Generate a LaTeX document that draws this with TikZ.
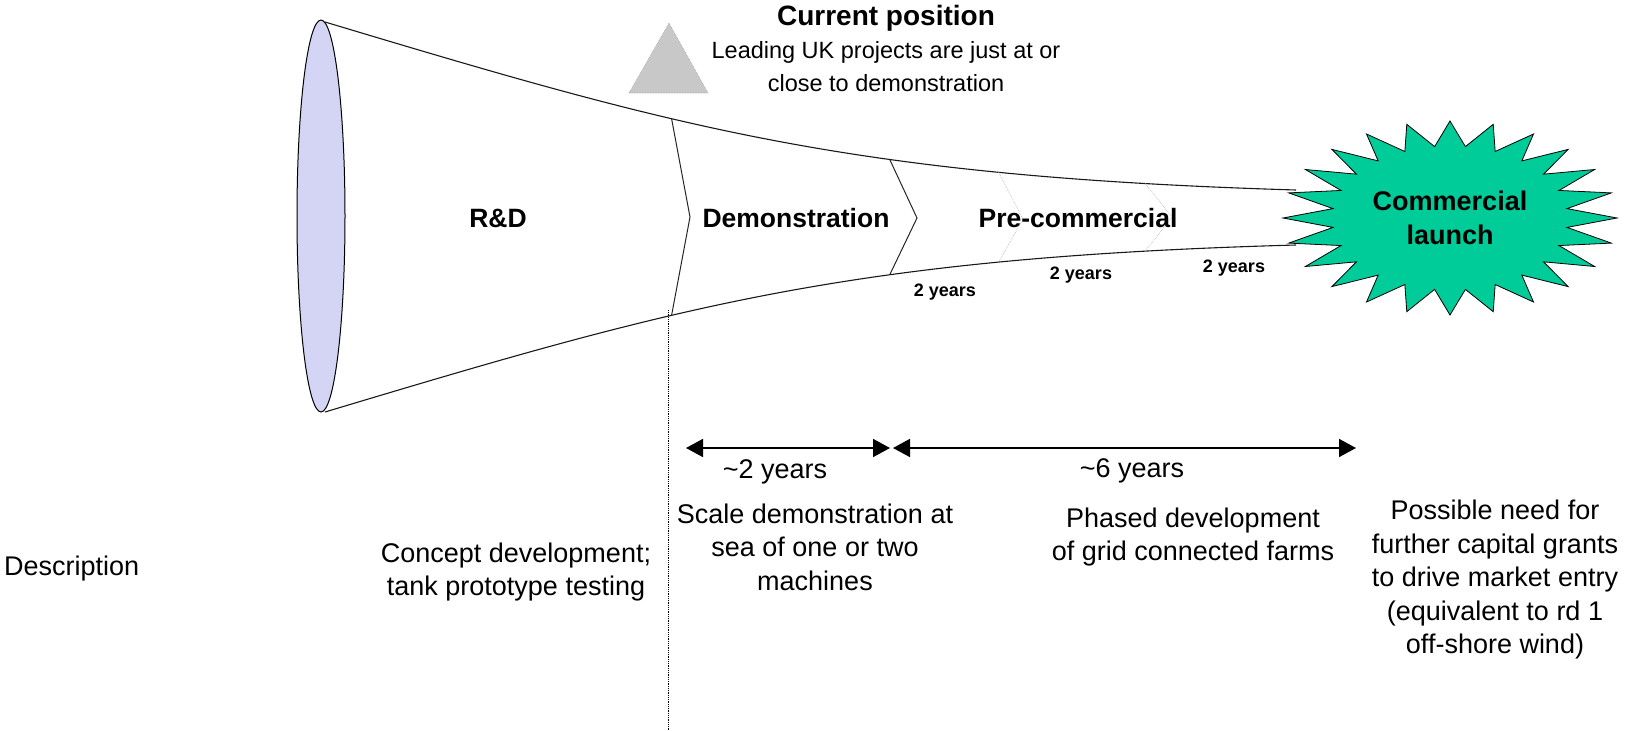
\documentclass[tikz,border=0pt]{standalone}
\usepackage{fontspec}
\setmainfont{Liberation Sans}
\usetikzlibrary{arrows.meta}
\definecolor{lav}{RGB}{212,212,245}
\definecolor{burst}{RGB}{0,204,153}
\definecolor{tri}{RGB}{200,200,200}
\begin{document}
\begin{tikzpicture}[x=1pt,y=-1pt,
  stage/.style={font=\fontsize{26.5}{30}\selectfont\bfseries, inner sep=0pt},
  yrs/.style={font=\fontsize{18}{22}\selectfont\bfseries, inner sep=0pt},
  desc/.style={font=\fontsize{27}{33.5}\selectfont, align=center, inner sep=0pt},
  funnel/.style={line width=1.1pt, black!90},
  divider/.style={line width=1pt, black!85},
  ghost/.style={line width=0.7pt, gray!55, densely dotted},
  span/.style={line width=1.7pt, {Triangle[length=17pt,width=18pt]}-{Triangle[length=17pt,width=18pt]}},
]
\useasboundingbox (0,0) rectangle (1626,731);

% funnel outline
\draw[funnel] (325,22) .. controls (675,127) and (846,176.5) .. (1296,190)
  coordinate[pos=0.38] (tA) coordinate[pos=0.632] (tB)
  coordinate[pos=0.745] (tC) coordinate[pos=0.88] (tD);
\draw[funnel] (325,412) .. controls (675,307) and (846,257.5) .. (1296,245)
  coordinate[pos=0.38] (bA) coordinate[pos=0.632] (bB)
  coordinate[pos=0.745] (bC) coordinate[pos=0.88] (bD);

% stage dividers (chevrons)
\coordinate (pA) at (690,217);
\coordinate (pB) at (917,218);
\coordinate (pC) at (1023,219);
\coordinate (pD) at (1172,217);
\draw[divider] (tA) -- (pA) -- (bA);
\draw[divider] (tB) -- (pB) -- (bB);
\draw[ghost] (tC) -- (pC) -- (bC);
\draw[ghost] (tD) -- (pD) -- (bD);

% mouth of the funnel
\draw[fill=lav, line width=1pt] (321,216) ellipse [x radius=24, y radius=196];

% current position marker
\draw[fill=tri, draw=gray!70, densely dotted, line width=0.6pt]
  (669,23) -- (708,93) -- (629,93) -- cycle;

% commercial launch starburst
\draw[fill=burst, line width=0.8pt, line join=miter, miter limit=20]
  plot[samples at={0,...,47}, variable=\i]
  ({1450+cos(\i*7.5)*(iseven(\i)?167:118)}, {218+sin(\i*7.5)*(iseven(\i)?97:72)}) -- cycle;
\node[font=\fontsize{27}{34}\selectfont\bfseries, align=center, inner sep=0pt] (launch) at (1450,218) {Commercial\\launch};

% stage labels
\node[stage] (rd) at (498,218) {R\&D};
\node[stage] (demo) at (796,218) {Demonstration};
\node[stage] (pre) at (1078,218) {Pre-commercial};

\node[yrs] (y1) at (945,292) {2 years};
\node[yrs] (y2) at (1081,275) {2 years};
\node[yrs] (y3) at (1234,268) {2 years};

% current position text
\node[font=\fontsize{28}{32}\selectfont\bfseries, inner sep=0pt] (cur) at (886,18) {Current position};
\node[font=\fontsize{23.5}{33}\selectfont, align=center, inner sep=0pt] (lead) at (886,67)
  {Leading UK projects are just at or\\close to demonstration};

% dotted boundary
\coordinate (v1) at (668,310);
\coordinate (v2) at (668,731);
\draw[densely dotted, line width=0.8pt] (v1) -- (v2);

% timeline arrows
\coordinate (a1) at (686,448);
\coordinate (a2) at (890,448);
\coordinate (a3) at (893,448);
\coordinate (a4) at (1356,448);
\draw[span] (a1) -- (a2);
\draw[span] (a3) -- (a4);

% descriptions
\node[desc] (d1) at (775,472) {\textasciitilde 2 years};
\node[desc] (d2) at (1132,471) {\textasciitilde 6 years};
\node[desc] (d3) at (815,547) {Scale demonstration at\\sea of one or two\\machines};
\node[desc] (d4) at (1193,537) {Phased development\\of grid connected farms};
\node[desc] (d5) at (516,572) {Concept development;\\tank prototype testing};
\node[desc] (d6) at (1495,580) {Possible need for\\further capital grants\\to drive market entry\\(equivalent to rd 1\\off-shore wind)};
\node[desc, anchor=base west] (desc) at (4,575) {Description};
\end{tikzpicture}
\end{document}
